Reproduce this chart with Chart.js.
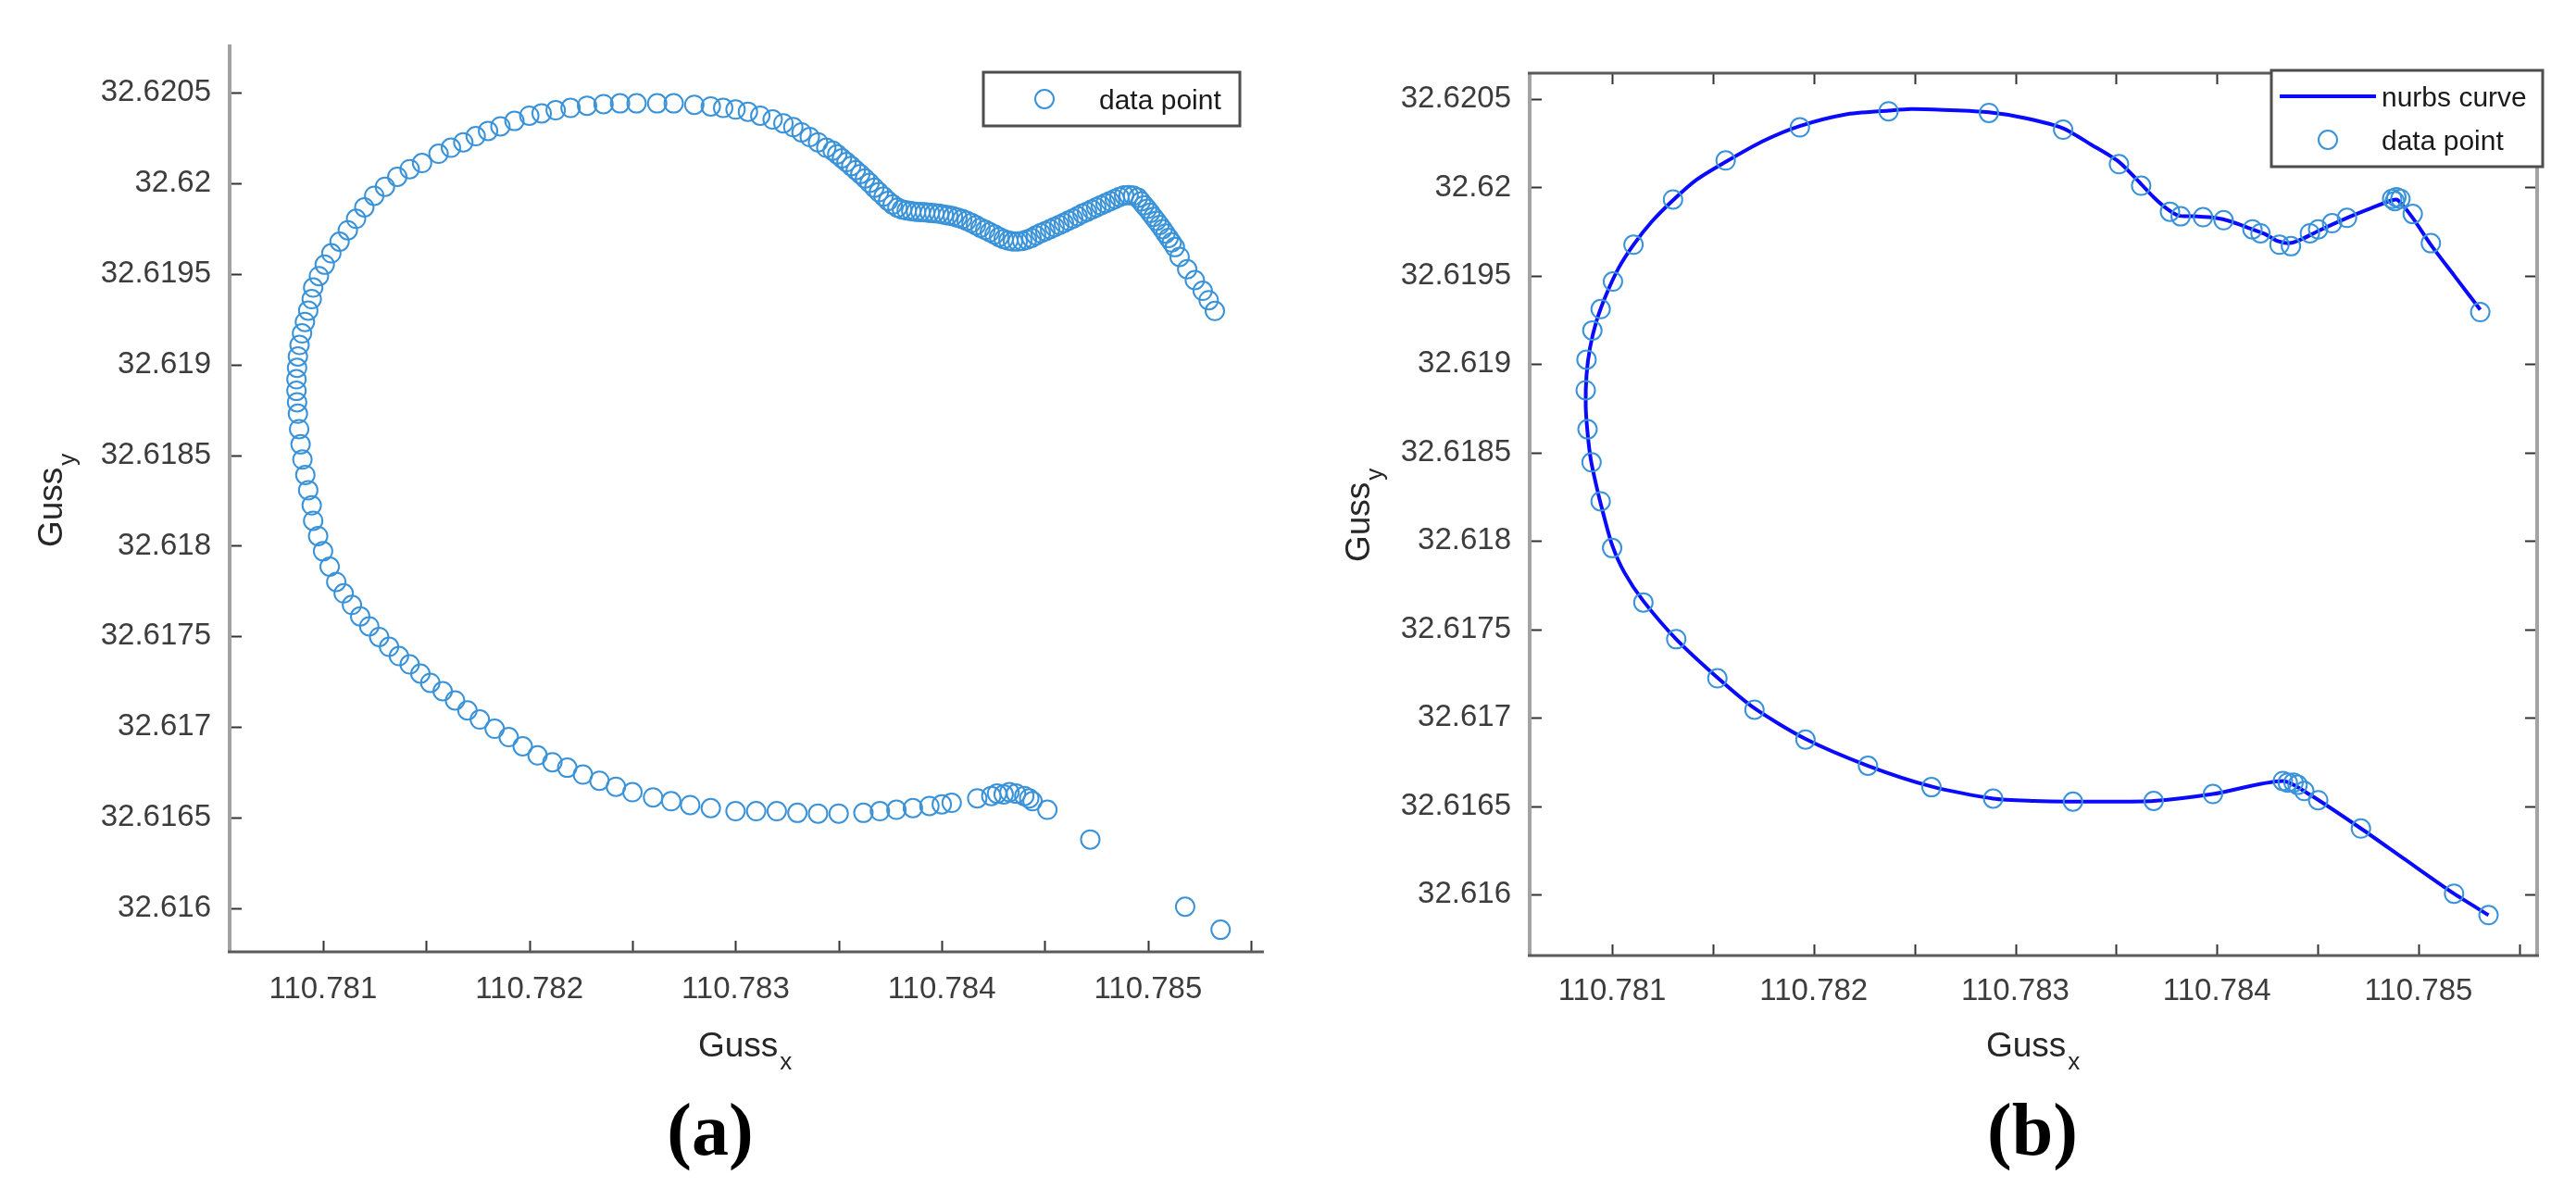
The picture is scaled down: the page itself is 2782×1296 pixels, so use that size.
<!DOCTYPE html>
<html>
<head>
<meta charset="utf-8">
<script src="https://cdn.jsdelivr.net/npm/chart.js@4.4.1/dist/chart.umd.min.js"></script>
<style>
  body { margin: 0; background: #fff; width: 2782px; height: 1296px; position: relative; overflow: hidden; }
  canvas { position: absolute; top: 0; }
  #chartA { left: 0; }
  #chartB { left: 1390px; }
  .tag { position: absolute; top: 1180px; width: 200px; text-align: center; font: bold 80px "Liberation Serif", serif; line-height: 80px; color: #000; }
</style>
</head>
<body>
<canvas id="chartA" width="1390" height="1296"></canvas>
<canvas id="chartB" width="1392" height="1296"></canvas>
<div class="tag" style="left:667px">(a)</div>
<div class="tag" style="left:2095px">(b)</div>
<script>
// (a) all track points
const gussXa = [
  // dense wiggle, upper right
  110.783471, 110.783493, 110.783516, 110.783538, 110.783561, 110.783583, 110.783605, 110.783628, 110.78365, 110.783673,
  110.783695, 110.783718, 110.78374, 110.783762, 110.783785, 110.783807, 110.78383, 110.783852, 110.783875, 110.783897,
  110.783919, 110.783942, 110.783964, 110.783987, 110.784009, 110.784031, 110.784054, 110.784076, 110.784099, 110.784121,
  110.784144, 110.784166, 110.784188, 110.784211, 110.784233, 110.784256, 110.784278, 110.7843, 110.784323, 110.784345,
  110.784368, 110.78439, 110.784413, 110.784435, 110.784457, 110.78448, 110.784502, 110.784525, 110.784547, 110.78457,
  110.784592, 110.784614, 110.784637, 110.784659, 110.784682, 110.784704, 110.784727, 110.784749, 110.784771, 110.784794,
  110.784816, 110.784839, 110.784861, 110.784884, 110.784906, 110.784928,
  110.784951, 110.784966, 110.784981, 110.784996, 110.785011, 110.785026, 110.785041, 110.785056, 110.785071, 110.785085,
  110.7851, 110.785115, 110.78513, 110.785153, 110.78519, 110.785227, 110.785265, 110.785294, 110.785324,
  // top arc, left side, bottom arc
  110.78344, 110.7834, 110.78336, 110.78332, 110.78328, 110.783232, 110.78318, 110.78312, 110.78306, 110.783, 110.78294,
  110.78288, 110.7828, 110.7827, 110.78262, 110.78252, 110.78244, 110.78236, 110.78228, 110.7822, 110.782128,
  110.78206, 110.782, 110.781928, 110.78186, 110.7818, 110.78174, 110.78168, 110.78162, 110.78156, 110.78148,
  110.78142, 110.78136, 110.7813, 110.781248, 110.7812, 110.78116, 110.78112, 110.78108, 110.78104, 110.781008,
  110.78098, 110.780952, 110.780945, 110.780928, 110.780912, 110.780898, 110.780886, 110.780878, 110.780874, 110.780871,
  110.780871, 110.780874, 110.780878, 110.780884, 110.780891, 110.7809, 110.780914, 110.780928, 110.780945, 110.780952,
  110.780976, 110.781, 110.781032, 110.781064, 110.7811, 110.78114, 110.78118, 110.781224, 110.781272, 110.78132,
  110.781368, 110.78142, 110.781472, 110.78152, 110.78158, 110.78164, 110.7817, 110.78176, 110.781832, 110.7819,
  110.781968, 110.78204, 110.782112, 110.782184, 110.78226, 110.78234, 110.78242, 110.7825, 110.7826, 110.782688,
  110.78278, 110.78288, 110.783, 110.7831, 110.7832, 110.7833, 110.7834, 110.7835, 110.78362, 110.7837,
  110.78378, 110.78386, 110.78394, 110.784, 110.784048, 110.784172, 110.78424, 110.7843, 110.78436, 110.7844,
  110.78444, 110.784512, 110.78472, 110.78518, 110.785352,
  110.784268, 110.784328, 110.784424
];
const gussYa = [
  32.62018, 32.62016, 32.620138, 32.620117, 32.620095, 32.620073, 32.620051, 32.620027, 32.620002, 32.619976,
  32.619951, 32.619927, 32.619903, 32.619883, 32.619866, 32.619856, 32.61985, 32.619847, 32.619843, 32.619842,
  32.61984, 32.619837, 32.619835, 32.619832, 32.619828, 32.619823, 32.619818, 32.619811, 32.619803, 32.619793,
  32.619781, 32.619769, 32.619755, 32.619743, 32.61973, 32.619718, 32.619704, 32.619692, 32.619684, 32.619679,
  32.619679, 32.619682, 32.619689, 32.619699, 32.619713, 32.619725, 32.619736, 32.619747, 32.619759, 32.61977,
  32.619781, 32.619794, 32.619806, 32.619818, 32.619832, 32.619843, 32.619856, 32.619867, 32.619879, 32.61989,
  32.619901, 32.619913, 32.619925, 32.619934, 32.619935, 32.619932,
  32.61992, 32.6199, 32.619879, 32.619859, 32.619837, 32.619815, 32.619793, 32.61977, 32.619747, 32.619723,
  32.619699, 32.619674, 32.619648, 32.619594, 32.619526, 32.619466, 32.619407, 32.619355, 32.619296,
  32.620196, 32.620226, 32.620255, 32.620281, 32.62031, 32.620331, 32.620352, 32.620373, 32.620395, 32.620407, 32.620416,
  32.620424, 32.620433, 32.620441, 32.620441, 32.620441, 32.620441, 32.620437, 32.620428, 32.620416, 32.620403,
  32.620386, 32.620373, 32.620344, 32.620314, 32.620289, 32.62026, 32.620226, 32.620196, 32.620163, 32.620112,
  32.620078, 32.620036, 32.619981, 32.619931, 32.619867, 32.619804, 32.619741, 32.619678, 32.619614, 32.619551,
  32.619488, 32.619425, 32.619361, 32.619298, 32.619235, 32.619172, 32.619108, 32.619045, 32.618982, 32.618919,
  32.618855, 32.618792, 32.618729, 32.618644, 32.61856, 32.618476, 32.618391, 32.618307, 32.618223, 32.618138,
  32.618054, 32.61797, 32.617885, 32.617801, 32.617738, 32.617674, 32.617611, 32.617556, 32.617497, 32.617443,
  32.617392, 32.617346, 32.617295, 32.617244, 32.617198, 32.617147, 32.617092, 32.617042, 32.616991, 32.616945,
  32.616894, 32.616844, 32.616806, 32.616776, 32.616738, 32.616704, 32.616671, 32.616641, 32.616612, 32.616591,
  32.61657, 32.616553, 32.616536, 32.616536, 32.616536, 32.616527, 32.616523, 32.616523, 32.616527, 32.616536,
  32.616544, 32.616553, 32.616565, 32.616574, 32.616582, 32.616607, 32.61662, 32.616629, 32.616633, 32.61662,
  32.616591, 32.616544, 32.61638, 32.616009, 32.615882,
  32.616633, 32.616641, 32.616607
];

// (b) reduced data points
const gussXb = [
  110.785306, 110.785061, 110.784971, 110.784869, 110.78489, 110.78491, 110.784882, 110.784645, 110.784571, 110.784502,
  110.784461, 110.784367, 110.78431, 110.784216, 110.784176, 110.784033, 110.783931, 110.78382, 110.783767, 110.783624,
  110.783514, 110.783237, 110.782869, 110.782371, 110.781931, 110.781563, 110.781302, 110.781106, 110.781004, 110.780943,
  110.780902, 110.780873, 110.780869, 110.780878, 110.780898, 110.780943, 110.781, 110.781155, 110.781318, 110.781522,
  110.781706, 110.781959, 110.782269, 110.782584, 110.78289, 110.783286, 110.783686, 110.78398, 110.784327, 110.784351,
  110.78438, 110.7844, 110.784433, 110.784502, 110.784714, 110.785176, 110.785347
];
const gussYb = [
  32.619295, 32.619685, 32.61985, 32.619936, 32.619945, 32.619936, 32.619923, 32.619828, 32.619798, 32.619763,
  32.619741, 32.619668, 32.619676, 32.619741, 32.619763, 32.619815, 32.619832, 32.619837, 32.619863, 32.62001,
  32.620132, 32.620327, 32.620422, 32.620431, 32.62034, 32.620153, 32.619932, 32.619676, 32.619468, 32.619312,
  32.619191, 32.619026, 32.618853, 32.618632, 32.618445, 32.618224, 32.61796, 32.617652, 32.617444, 32.617223,
  32.617045, 32.616876, 32.616728, 32.616607, 32.616542, 32.616525, 32.616529, 32.616568, 32.616642, 32.616633,
  32.616633, 32.61662, 32.616585, 32.616533, 32.616373, 32.616004, 32.615883
];

// (b) nurbs curve samples
const curveX = [
  110.785306, 110.785176, 110.785061, 110.784971, 110.784898, 110.784869, 110.784767, 110.784645, 110.784502, 110.78442,
  110.784359, 110.784298, 110.784237, 110.784155, 110.784073, 110.783992, 110.78389, 110.783808, 110.783747, 110.783686,
  110.783624, 110.783514, 110.78338, 110.783237, 110.783053, 110.782869, 110.782645, 110.782482, 110.782371, 110.782155,
  110.781931, 110.781747, 110.781563, 110.78142, 110.781302, 110.781196, 110.781106, 110.781033, 110.780971, 110.780922,
  110.78089, 110.780873, 110.780869, 110.780878, 110.780894, 110.780922, 110.780955, 110.781, 110.781061, 110.781155,
  110.781318, 110.781522, 110.781706, 110.781959, 110.782269, 110.782584, 110.78289, 110.783094, 110.783286, 110.783461,
  110.783686, 110.78398, 110.784327, 110.784461, 110.784714, 110.784931, 110.785176, 110.785347
];
const curveY = [
  32.619308, 32.619503, 32.619676, 32.619828, 32.619928, 32.619928, 32.619884, 32.619828, 32.619754, 32.619707,
  32.619685, 32.619698, 32.619737, 32.619772, 32.619806, 32.619828, 32.619837, 32.619841, 32.619884, 32.619945,
  32.620019, 32.620145, 32.62024, 32.620335, 32.620392, 32.620426, 32.620439, 32.620444, 32.620435, 32.620413,
  32.620348, 32.620262, 32.620145, 32.620045, 32.619928, 32.619806, 32.619676, 32.619546, 32.619395, 32.619243,
  32.619091, 32.618939, 32.618766, 32.618614, 32.618462, 32.618311, 32.618159, 32.617977, 32.617821, 32.61766,
  32.617444, 32.617227, 32.617053, 32.61688, 32.616728, 32.616611, 32.616542, 32.616529, 32.616525, 32.616525,
  32.616529, 32.616568, 32.616642, 32.616564, 32.616373, 32.616199, 32.616004, 32.615883
];

const xTickLabels = ['110.781', '110.782', '110.783', '110.784', '110.785'];
const yTickLabels = ['32.616', '32.6165', '32.617', '32.6175', '32.618', '32.6185', '32.619', '32.6195', '32.62', '32.6205'];

const zip = (xs, ys) => xs.map((x, i) => ({ x: x, y: ys[i] }));

const INK = '#3c3c3c';
const MARKER = '#3a93d8';

function drawSub(ctx, main, sub, x, y, rot) {
    ctx.save();
    ctx.translate(x, y);
    ctx.rotate(rot);
    ctx.fillStyle = '#262626';
    ctx.textAlign = 'left';
    ctx.textBaseline = 'alphabetic';
    ctx.font = '37px "Liberation Sans"';
    ctx.fillText(main, 0, 0);
    const w = ctx.measureText(main).width;
    ctx.font = '26px "Liberation Sans"';
    ctx.fillText(sub, w + 2, 14);
    ctx.restore();
}

// matlab style axes: inward ticks, grey/dark axis lines, subscript titles
const matlabAxes = {
    id: 'matlabAxes',
    afterDatasetsDraw(chart, args, opts) {
        const { ctx, chartArea: a, scales: { x, y } } = chart;
        ctx.save();
        ctx.strokeStyle = '#333';
        ctx.lineWidth = 2;
        ctx.beginPath();
        x.ticks.forEach(t => {
            const px = Math.round(x.getPixelForValue(t.value)) + 0.5;
            ctx.moveTo(px, a.bottom); ctx.lineTo(px, a.bottom - 12);
            if (opts.box) { ctx.moveTo(px, a.top); ctx.lineTo(px, a.top + 12); }
        });
        y.ticks.forEach(t => {
            const py = Math.round(y.getPixelForValue(t.value)) + 0.5;
            ctx.moveTo(a.left, py); ctx.lineTo(a.left + 13, py);
            if (opts.box) { ctx.moveTo(a.right, py); ctx.lineTo(a.right - 13, py); }
        });
        ctx.stroke();

        ctx.lineWidth = 4;
        ctx.strokeStyle = '#a3a3a3';
        ctx.beginPath();
        ctx.moveTo(a.left, a.top); ctx.lineTo(a.left, a.bottom);
        if (opts.box) { ctx.moveTo(a.right, a.top); ctx.lineTo(a.right, a.bottom); }
        ctx.stroke();
        ctx.lineWidth = 3;
        ctx.strokeStyle = '#5a5a5a';
        ctx.beginPath();
        ctx.moveTo(a.left - 2, a.bottom); ctx.lineTo(a.right + 2, a.bottom);
        if (opts.box) { ctx.moveTo(a.left - 2, a.top); ctx.lineTo(a.right + 2, a.top); }
        ctx.stroke();
        ctx.restore();

        drawSub(ctx, 'Guss', 'x', opts.xTitle[0], opts.xTitle[1], 0);
        drawSub(ctx, 'Guss', 'y', opts.yTitle[0], opts.yTitle[1], -Math.PI / 2);
    }
};

// boxed legend drawn inside the axes
const boxLegend = {
    id: 'boxLegend',
    afterDraw(chart, args, opts) {
        const { ctx } = chart;
        const b = opts.box;
        ctx.save();
        ctx.fillStyle = '#fff';
        ctx.fillRect(b[0], b[1], b[2] - b[0], b[3] - b[1]);
        ctx.strokeStyle = '#4d4d4d';
        ctx.lineWidth = 3;
        ctx.strokeRect(b[0], b[1], b[2] - b[0], b[3] - b[1]);
        ctx.font = '30px "Liberation Sans"';
        ctx.fillStyle = '#1a1a1a';
        ctx.textBaseline = 'middle';
        ctx.textAlign = 'left';
        chart.data.datasets.forEach((ds, i) => {
            const rowY = opts.rows[i];
            if (ds.showLine) {
                ctx.strokeStyle = ds.borderColor;
                ctx.lineWidth = ds.borderWidth;
                ctx.beginPath();
                ctx.moveTo(opts.lineX[0], rowY); ctx.lineTo(opts.lineX[1], rowY);
                ctx.stroke();
            } else {
                ctx.strokeStyle = ds.borderColor;
                ctx.lineWidth = ds.borderWidth;
                ctx.beginPath();
                ctx.arc(opts.markX, rowY, ds.pointRadius, 0, Math.PI * 2);
                ctx.stroke();
            }
            ctx.fillText(ds.label, opts.textX, rowY + 3);
        });
        ctx.restore();
    }
};

function xAxis(min, max, pad) {
    return {
        type: 'linear', position: 'bottom', min: min, max: max,
        grid: { display: false, drawTicks: false },
        border: { display: false },
        afterFit: s => { s.height = pad.h; },
        ticks: {
            stepSize: 0.0005, includeBounds: false, maxRotation: 0, autoSkip: false,
            padding: pad.p, color: INK, font: { family: 'Liberation Sans', size: 33 },
            callback: v => {
                const s = v.toFixed(3);
                return (Math.abs(v - parseFloat(s)) < 1e-7 && xTickLabels.includes(s)) ? s : '';
            }
        }
    };
}

function yAxis(min, max, w) {
    return {
        type: 'linear', min: min, max: max,
        grid: { display: false, drawTicks: false },
        border: { display: false },
        afterFit: s => { s.width = w; },
        ticks: {
            stepSize: 0.0005, includeBounds: false, autoSkip: false,
            padding: 20, color: INK, font: { family: 'Liberation Sans', size: 33 },
            callback: v => {
                const s = parseFloat(v.toFixed(4)).toString();
                return yTickLabels.includes(s) ? s : '';
            }
        }
    };
}

const pointStyle = {
    pointStyle: 'circle', pointRadius: 10, pointHoverRadius: 10,
    borderColor: MARKER, backgroundColor: 'rgba(0,0,0,0)', borderWidth: 2
};

new Chart(document.getElementById('chartA'), {
    type: 'scatter',
    data: {
        datasets: [Object.assign({ label: 'data point', data: zip(gussXa, gussYa) }, pointStyle)]
    },
    options: {
        responsive: false, animation: false,
        layout: { padding: { left: 0, top: 48, right: 27, bottom: 0 } },
        scales: { x: xAxis(110.780547, 110.785553, { h: 268, p: 21 }), y: yAxis(32.61576, 32.620766, 248) },
        plugins: {
            legend: { display: false }, tooltip: { enabled: false },
            matlabAxes: { box: false, xTitle: [754, 1141], yTitle: [67, 591] },
            boxLegend: { box: [1062, 78, 1339, 136], rows: [107], markX: 1128, lineX: [0, 0], textX: 1187 }
        }
    },
    plugins: [matlabAxes, boxLegend]
});

new Chart(document.getElementById('chartB'), {
    type: 'scatter',
    data: {
        datasets: [
            {
                label: 'nurbs curve', data: zip(curveX, curveY), showLine: true, order: 1,
                borderColor: '#0a0aff', borderWidth: 4, pointRadius: 0, tension: 0.25, fill: false
            },
            Object.assign({ label: 'data point', data: zip(gussXb, gussYb), order: 0 }, pointStyle)
        ]
    },
    options: {
        responsive: false, animation: false,
        layout: { padding: { left: 0, top: 79, right: 42, bottom: 0 } },
        scales: { x: xAxis(110.780591, 110.785588, { h: 264, p: 19 }), y: yAxis(32.615654, 32.620647, 262) },
        plugins: {
            legend: { display: false }, tooltip: { enabled: false },
            matlabAxes: { box: true, xTitle: [755, 1141], yTitle: [89, 607] },
            boxLegend: { box: [1063, 76, 1356, 180], rows: [104, 151], markX: 1124, lineX: [1072, 1176], textX: 1182 }
        }
    },
    plugins: [matlabAxes, boxLegend]
});
</script>
</body>
</html>
